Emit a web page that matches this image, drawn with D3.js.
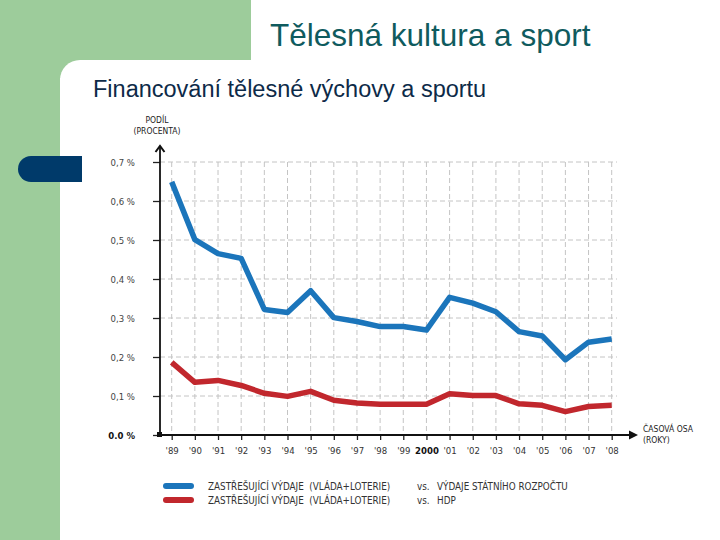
<!DOCTYPE html>
<html>
<head>
<meta charset="utf-8">
<script src="https://cdn.jsdelivr.net/npm/d3@7"></script>
<style>
html,body{margin:0;padding:0;background:#fff;}
svg{display:block;}
</style>
</head>
<body>
<svg id="chart" width="720" height="540"></svg>
<script>
const years = ["'89","'90","'91","'92","'93","'94","'95","'96","'97","'98","'99","2000","'01","'02","'03","'04","'05","'06","'07","'08"];
const budgetShare = [0.649,0.501,0.465,0.453,0.322,0.314,0.370,0.301,0.291,0.278,0.278,0.269,0.353,0.338,0.316,0.265,0.254,0.193,0.238,0.246];
const gdpShare = [0.186,0.135,0.140,0.127,0.107,0.099,0.112,0.089,0.082,0.079,0.079,0.079,0.106,0.101,0.101,0.080,0.076,0.060,0.073,0.076];
const yTicks = [0,0.1,0.2,0.3,0.4,0.5,0.6,0.7];
const yTickLabels = ["0.0 %","0,1 %","0,2 %","0,3 %","0,4 %","0,5 %","0,6 %","0,7 %"];
const seriesNames = ["ZASTŘEŠUJÍCÍ VÝDAJE  (VLÁDA+LOTERIE)","ZASTŘEŠUJÍCÍ VÝDAJE  (VLÁDA+LOTERIE)"];
const seriesVs = ["VÝDAJE STÁTNÍHO ROZPOČTU","HDP"];
const title = "Tělesná kultura a sport";
const subtitle = "Financování tělesné výchovy a sportu";

const svg = d3.select("#chart");
const narrow = "'Liberation Sans Narrow','DejaVu Sans Condensed','Arial Narrow',sans-serif";

// background decoration
const green = "#9dcc9b";
svg.append("rect").attr("x",0).attr("y",0).attr("width",251).attr("height",80).attr("fill",green);
svg.append("rect").attr("x",0).attr("y",0).attr("width",60).attr("height",540).attr("fill",green);
svg.append("path").attr("d","M60,80 A20,20 0 0 1 80,60 L251,60 L251,80 Z").attr("fill","#fff");
svg.append("rect").attr("x",60).attr("y",78).attr("width",191).attr("height",10).attr("fill","#fff");
svg.append("path").attr("d","M82,156 L31,156 A13,13 0 0 0 31,182 L82,182 Z").attr("fill","#003a6a");

svg.append("text").attr("x",270).attr("y",46).attr("font-family","'Liberation Sans',Arial,sans-serif")
  .attr("font-size",31.5).attr("fill","#0f5b5e").text(title);
svg.append("text").attr("x",93).attr("y",97).attr("font-family","'Liberation Sans',Arial,sans-serif")
  .attr("font-size",23.5).attr("fill","#0d2a48").text(subtitle);

// scales
const x = d3.scalePoint().domain(years).range([171.7,611.7]);
const y = d3.scaleLinear().domain([0,0.7]).range([435,162]);
const x0 = 160, xEnd = 617;

// grid
const grid = svg.append("g").attr("stroke","#c4c4c4").attr("stroke-width",1).attr("stroke-dasharray","5,3");
grid.selectAll("line.h").data(yTicks.slice(1)).join("line")
  .attr("x1",x0).attr("x2",xEnd).attr("y1",d=>y(d)).attr("y2",d=>y(d));
grid.selectAll("line.v").data(years).join("line")
  .attr("x1",d=>x(d)).attr("x2",d=>x(d)).attr("y1",y(0.7)).attr("y2",y(0));

// y axis
const yAxis = svg.append("g").attr("transform",`translate(${x0},0)`)
  .call(d3.axisLeft(y).tickValues(yTicks).tickSize(7).tickPadding(18)
    .tickFormat((d,i)=>yTickLabels[i]));
yAxis.select(".domain").remove();
yAxis.selectAll(".tick line").attr("stroke","#222").attr("stroke-width",1.3);
yAxis.selectAll(".tick text").attr("font-family",narrow).attr("font-size",9.5).attr("fill","#444")
  .attr("font-weight",(d)=>d===0?"bold":null).style("fill",(d)=>d===0?"#111":"#444");

// x axis
const xAxis = svg.append("g").attr("transform",`translate(0,${y(0)})`)
  .call(d3.axisBottom(x).tickSize(5).tickPadding(7));
xAxis.select(".domain").remove();
xAxis.selectAll(".tick line").attr("stroke","#222").attr("stroke-width",1.3);
xAxis.selectAll(".tick text").attr("font-family",narrow).attr("font-size",9.5).attr("fill","#333")
  .attr("font-weight",d=>d==="2000"?"bold":null).style("fill",d=>d==="2000"?"#111":"#333");

// axis lines with arrows
svg.append("line").attr("x1",x0).attr("x2",x0).attr("y1",y(0)).attr("y2",147).attr("stroke","#111").attr("stroke-width",1.8);
svg.append("path").attr("d",`M${x0-4.5},${152} L${x0},${146} L${x0+4.5},${152}`).attr("fill","none").attr("stroke","#111").attr("stroke-width",2);
svg.append("line").attr("x1",x0).attr("x2",635).attr("y1",y(0)).attr("y2",y(0)).attr("stroke","#111").attr("stroke-width",1.8);
svg.append("path").attr("d",`M${629},${y(0)-4.5} L${638},${y(0)} L${629},${y(0)+4.5} Z`).attr("fill","#111");
svg.append("rect").attr("x",x0-3).attr("y",y(0)-3).attr("width",5).attr("height",5).attr("fill","#111");

// axis titles
svg.append("text").attr("x",157).attr("y",123).attr("text-anchor","middle").attr("font-family",narrow)
  .attr("font-size",8.5).attr("fill","#222").text("PODÍL");
svg.append("text").attr("x",157).attr("y",134).attr("text-anchor","middle").attr("font-family",narrow)
  .attr("font-size",8.5).attr("fill","#222").text("(PROCENTA)");
svg.append("text").attr("x",643).attr("y",432).attr("font-family",narrow)
  .attr("font-size",8.5).attr("fill","#222").text("ČASOVÁ OSA");
svg.append("text").attr("x",643).attr("y",443).attr("font-family",narrow)
  .attr("font-size",8.5).attr("fill","#222").text("(ROKY)");

// lines
const line = d3.line().x((d,i)=>x(years[i])).y(d=>y(d));
const colors = ["#1b75bb","#c1272d"];
[budgetShare,gdpShare].forEach((s,k)=>{
  svg.append("path").datum(s).attr("d",line).attr("fill","none").attr("stroke",colors[k])
    .attr("stroke-width",5.5).attr("stroke-linejoin","round").attr("stroke-linecap","butt");
});

// legend
const lg = svg.append("g");
[0,1].forEach(k=>{
  const ly = 486 + k*14;
  lg.append("line").attr("x1",166).attr("x2",191).attr("y1",ly).attr("y2",ly)
    .attr("stroke",colors[k]).attr("stroke-width",6).attr("stroke-linecap","round");
  lg.append("text").attr("x",208).attr("y",ly+3.5).attr("font-family",narrow).attr("font-size",9.8)
    .attr("fill","#333").attr("xml:space","preserve").style("white-space","pre").text(seriesNames[k]);
  lg.append("text").attr("x",417).attr("y",ly+3.5).attr("font-family",narrow).attr("font-size",9.8)
    .attr("fill","#333").text("vs.");
  lg.append("text").attr("x",437).attr("y",ly+3.5).attr("font-family",narrow).attr("font-size",9.8)
    .attr("fill","#333").text(seriesVs[k]);
});
</script>
</body>
</html>
